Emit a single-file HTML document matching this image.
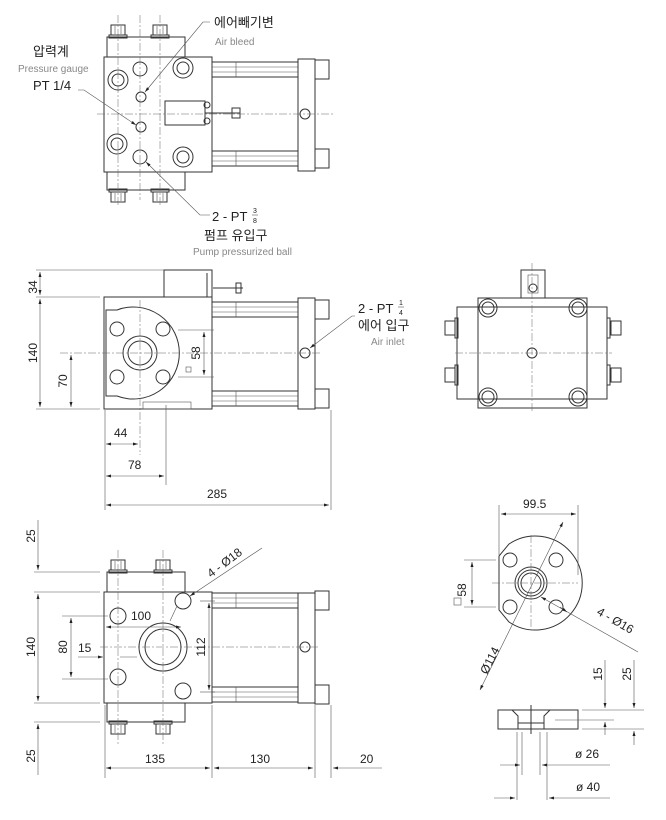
<!DOCTYPE html>
<html><head><meta charset="utf-8"><style>
html,body{margin:0;padding:0;background:#fff}
svg{display:block}
text{font-family:"Liberation Sans","Noto Sans CJK KR",sans-serif;fill:#222}
.l{stroke:#333;stroke-width:1;fill:none}
.t{stroke:#555;stroke-width:.6;fill:none}
.c{stroke:#666;stroke-width:.5;fill:none;stroke-dasharray:8 2 2 2}
.g{fill:#888;font-size:10px}
</style></head><body>
<svg width="666" height="820" viewBox="0 0 666 820" xmlns="http://www.w3.org/2000/svg">
<defs>
<marker id="a" viewBox="0 0 10 6" refX="10" refY="3" markerWidth="9" markerHeight="5" orient="auto-start-reverse"><path d="M0,0L10,3L0,6z" fill="#222"/></marker>
<g id="bolt"><rect x="-7" y="-6" width="14" height="10" class="l"/><rect x="-9" y="4" width="18" height="3" class="l"/><line x1="-3" y1="-5" x2="-3" y2="3" class="t"/><line x1="3" y1="-5" x2="3" y2="3" class="t"/></g>
<g id="cyl"><rect x="212" y="0" width="86" height="15" class="l"/><line x1="212" y1="5" x2="298" y2="5" class="t"/><line x1="212" y1="10" x2="298" y2="10" class="t"/><line x1="236" y1="0" x2="236" y2="15" class="t"/><rect x="315" y="-2" width="14" height="19" class="l"/></g>
</defs>

<!-- VIEW 1 top -->
<rect x="107" y="37" width="78" height="20" class="l"/>
<rect x="107" y="172" width="78" height="18" class="l"/>
<use href="#bolt" x="118" y="31"/><use href="#bolt" x="160" y="31"/>
<use href="#bolt" x="118" y="196" transform="rotate(180 118 196)"/><use href="#bolt" x="160" y="196" transform="rotate(180 160 196)"/>
<rect x="104" y="57" width="108" height="115" class="l"/>
<use href="#cyl" y="62"/><use href="#cyl" y="151"/>
<rect x="298" y="59" width="17" height="112" class="l"/>
<circle cx="305" cy="114" r="5" class="l"/>
<rect x="165" y="101" width="40" height="24" class="l"/>
<line x1="205" y1="113" x2="240" y2="113" class="l"/><rect x="232" y="108" width="8" height="10" class="l"/>
<circle cx="207" cy="105" r="3" class="l"/><circle cx="207" cy="121" r="3" class="l"/>
<g class="l"><circle cx="118" cy="80" r="10"/><circle cx="118" cy="80" r="6"/><circle cx="183" cy="68" r="10"/><circle cx="183" cy="68" r="6"/>
<circle cx="117" cy="144" r="10"/><circle cx="117" cy="144" r="6"/><circle cx="183" cy="157" r="10"/><circle cx="183" cy="157" r="6"/>
<circle cx="141" cy="97" r="5"/><circle cx="141" cy="127" r="5"/><circle cx="140" cy="157" r="7"/><circle cx="140" cy="69" r="7"/></g>
<line x1="97" y1="114" x2="335" y2="114" class="c"/><line x1="140" y1="15" x2="140" y2="200" class="c"/>
<line x1="118" y1="15" x2="118" y2="205" class="c"/><line x1="160" y1="15" x2="160" y2="205" class="c"/>
<polyline points="210,22 203,22 145,92" class="t" marker-end="url(#a)"/>
<polyline points="78,90 84,90 136,125" class="t" marker-end="url(#a)"/>
<polyline points="210,215 200,215 146,162" class="t" marker-end="url(#a)"/>
<text x="214" y="27" font-size="13">에어빼기변</text><text x="215" y="45" class="g">Air bleed</text>
<text x="33" y="56" font-size="13">압력계</text><text x="18" y="72" class="g">Pressure gauge</text>
<text x="33" y="90" font-size="13">PT 1/4</text>
<text x="212" y="221" font-size="13">2 - PT</text><text x="253" y="213" font-size="7">3</text><line x1="252" y1="215" x2="258" y2="215" class="t"/><text x="253" y="223" font-size="7">8</text>
<text x="204" y="240" font-size="13">펌프 유입구</text><text x="193" y="255" class="g">Pump pressurized ball</text>

<!-- VIEW 2 side -->
<rect x="164" y="270" width="48" height="27" class="l"/>
<rect x="104" y="297" width="108" height="112" class="l"/>
<path d="M117,310 A46,46 0 1 1 117,396 L106,396 L106,310 Z" class="l"/>
<circle cx="140" cy="353" r="17" class="l"/><circle cx="140" cy="353" r="12" class="l"/>
<g class="l"><circle cx="117" cy="329" r="7"/><circle cx="163" cy="329" r="7"/><circle cx="117" cy="377" r="7"/><circle cx="163" cy="377" r="7"/></g>
<rect x="186" y="367" width="5" height="5" class="t"/>
<rect x="143" y="402" width="48" height="7" class="t"/>
<use href="#cyl" y="302"/><use href="#cyl" y="391"/>
<rect x="298" y="298" width="17" height="111" class="l"/>
<circle cx="305" cy="353" r="5" class="l"/>
<line x1="207" y1="273" x2="207" y2="297" class="l"/><line x1="213" y1="288" x2="243" y2="288" class="l"/><rect x="236" y="283" width="5" height="10" class="l"/>
<line x1="60" y1="353" x2="320" y2="353" class="c"/><line x1="140" y1="300" x2="140" y2="455" class="c"/>
<line x1="36" y1="270" x2="164" y2="270" class="t"/><line x1="36" y1="297" x2="100" y2="297" class="t"/><line x1="36" y1="409" x2="100" y2="409" class="t"/>
<line x1="40" y1="272" x2="40" y2="295" class="t" marker-start="url(#a)" marker-end="url(#a)"/>
<line x1="40" y1="299" x2="40" y2="407" class="t" marker-start="url(#a)" marker-end="url(#a)"/>
<line x1="71" y1="355" x2="71" y2="407" class="t" marker-start="url(#a)" marker-end="url(#a)"/>
<text transform="translate(37,287) rotate(-90)" font-size="12" text-anchor="middle">34</text>
<text transform="translate(37,353) rotate(-90)" font-size="12" text-anchor="middle">140</text>
<text transform="translate(67,381) rotate(-90)" font-size="12" text-anchor="middle">70</text>
<line x1="178" y1="330" x2="214" y2="330" class="t"/><line x1="178" y1="377" x2="214" y2="377" class="t"/>
<line x1="204" y1="332" x2="204" y2="375" class="t" marker-start="url(#a)" marker-end="url(#a)"/>
<text transform="translate(200,353) rotate(-90)" font-size="12" text-anchor="middle">58</text>
<line x1="105" y1="410" x2="105" y2="510" class="t"/><line x1="166" y1="405" x2="166" y2="485" class="t"/><line x1="331" y1="410" x2="331" y2="510" class="t"/>
<line x1="106" y1="444" x2="138" y2="444" class="t" marker-start="url(#a)" marker-end="url(#a)"/>
<line x1="106" y1="476" x2="164" y2="476" class="t" marker-start="url(#a)" marker-end="url(#a)"/>
<line x1="106" y1="505" x2="329" y2="505" class="t" marker-start="url(#a)" marker-end="url(#a)"/>
<text x="114" y="437" font-size="12">44</text><text x="128" y="469" font-size="12">78</text><text x="207" y="498" font-size="12">285</text>
<polyline points="355,316 352,316 310,348" class="t" marker-end="url(#a)"/>
<text x="358" y="313" font-size="13">2 - PT</text><text x="399" y="305" font-size="7">1</text><line x1="398" y1="307" x2="404" y2="307" class="t"/><text x="399" y="315" font-size="7">4</text>
<text x="358" y="330" font-size="13">에어 입구</text><text x="371" y="345" class="g">Air inlet</text>

<!-- VIEW 3 right -->
<rect x="521" y="270" width="24" height="28" class="l"/><rect x="528" y="275" width="10" height="18" class="t"/><circle cx="533" cy="288" r="4" class="l"/>
<rect x="457" y="307" width="150" height="92" class="l"/>
<rect x="478" y="298" width="109" height="110" class="l" fill="#fff"/>
<g class="l"><circle cx="488" cy="308" r="9"/><circle cx="488" cy="308" r="6"/><circle cx="578" cy="308" r="9"/><circle cx="578" cy="308" r="6"/>
<circle cx="488" cy="397" r="9"/><circle cx="488" cy="397" r="6"/><circle cx="578" cy="397" r="9"/><circle cx="578" cy="397" r="6"/>
<circle cx="532" cy="353" r="5"/>
<rect x="445" y="321" width="10" height="14"/><rect x="455" y="318" width="3" height="20"/><rect x="445" y="368" width="10" height="14"/><rect x="455" y="365" width="3" height="20"/>
<rect x="611" y="321" width="10" height="14"/><rect x="607" y="318" width="3" height="20"/><rect x="611" y="368" width="10" height="14"/><rect x="607" y="365" width="3" height="20"/></g>
<line x1="455" y1="353" x2="612" y2="353" class="c"/><line x1="532" y1="263" x2="532" y2="412" class="c"/>

<!-- VIEW 4 -->
<rect x="107" y="572" width="78" height="20" class="l"/>
<rect x="107" y="703" width="78" height="19" class="l"/>
<use href="#bolt" x="118" y="566"/><use href="#bolt" x="163" y="566"/>
<use href="#bolt" x="118" y="728" transform="rotate(180 118 728)"/><use href="#bolt" x="163" y="728" transform="rotate(180 163 728)"/>
<rect x="104" y="592" width="108" height="111" class="l"/>
<use href="#cyl" y="593"/><use href="#cyl" y="687"/>
<rect x="298" y="593" width="17" height="110" class="l"/>
<circle cx="305" cy="647" r="5" class="l"/>
<g class="l"><circle cx="163" cy="647" r="24"/><circle cx="163" cy="647" r="18"/>
<circle cx="118" cy="616" r="8"/><circle cx="118" cy="677" r="8"/><circle cx="183" cy="601" r="8"/><circle cx="183" cy="691" r="8"/></g>
<line x1="100" y1="647" x2="320" y2="647" class="c"/><line x1="118" y1="550" x2="118" y2="745" class="c"/><line x1="163" y1="550" x2="163" y2="745" class="c"/>
<line x1="34" y1="572" x2="100" y2="572" class="t"/><line x1="34" y1="592" x2="100" y2="592" class="t"/><line x1="34" y1="703" x2="100" y2="703" class="t"/><line x1="34" y1="722" x2="100" y2="722" class="t"/>
<line x1="38" y1="520" x2="38" y2="570" class="t" marker-end="url(#a)"/>
<line x1="38" y1="594" x2="38" y2="701" class="t" marker-start="url(#a)" marker-end="url(#a)"/>
<line x1="38" y1="724" x2="38" y2="775" class="t" marker-start="url(#a)"/>
<text transform="translate(35,536) rotate(-90)" font-size="12" text-anchor="middle">25</text>
<text transform="translate(35,647) rotate(-90)" font-size="12" text-anchor="middle">140</text>
<text transform="translate(35,756) rotate(-90)" font-size="12" text-anchor="middle">25</text>
<line x1="62" y1="616" x2="108" y2="616" class="t"/><line x1="62" y1="679" x2="108" y2="679" class="t"/>
<line x1="71" y1="618" x2="71" y2="677" class="t" marker-start="url(#a)" marker-end="url(#a)"/>
<text transform="translate(67,647) rotate(-90)" font-size="12" text-anchor="middle">80</text>
<line x1="78" y1="657" x2="103" y2="657" class="t" marker-end="url(#a)"/><line x1="120" y1="657" x2="137" y2="657" class="t"/>
<text x="78" y="652" font-size="12">15</text>
<line x1="106" y1="627" x2="181" y2="627" class="t" marker-start="url(#a)" marker-end="url(#a)"/>
<text x="131" y="620" font-size="12">100</text>
<line x1="200" y1="601" x2="215" y2="601" class="t"/><line x1="200" y1="692" x2="215" y2="692" class="t"/>
<line x1="209" y1="603" x2="209" y2="690" class="t" marker-start="url(#a)" marker-end="url(#a)"/>
<text transform="translate(205,647) rotate(-90)" font-size="12" text-anchor="middle">112</text>
<line x1="262" y1="548" x2="190" y2="596" class="t" marker-end="url(#a)"/><line x1="170" y1="621" x2="177" y2="606" class="t"/>
<text transform="translate(211,578) rotate(-37)" font-size="12">4 - Ø18</text>
<line x1="105" y1="705" x2="105" y2="778" class="t"/><line x1="212" y1="705" x2="212" y2="778" class="t"/><line x1="315" y1="705" x2="315" y2="778" class="t"/><line x1="331" y1="705" x2="331" y2="778" class="t"/>
<line x1="106" y1="768" x2="210" y2="768" class="t" marker-start="url(#a)" marker-end="url(#a)"/>
<line x1="214" y1="768" x2="313" y2="768" class="t" marker-start="url(#a)" marker-end="url(#a)"/>
<line x1="382" y1="768" x2="333" y2="768" class="t" marker-end="url(#a)"/>
<text x="145" y="763" font-size="12">135</text><text x="250" y="763" font-size="12">130</text><text x="360" y="763" font-size="12">20</text>

<!-- VIEW 5 flange -->
<path d="M509,544 A47,47 0 1 1 509,622 L499,610 L499,556 Z" class="l"/>
<g class="l"><circle cx="510" cy="560" r="7"/><circle cx="556" cy="560" r="7"/><circle cx="510" cy="607" r="7"/><circle cx="556" cy="607" r="7"/>
<circle cx="531" cy="583" r="16"/><circle cx="531" cy="583" r="13"/><circle cx="531" cy="583" r="10"/></g>
<line x1="492" y1="583" x2="578" y2="583" class="c"/><line x1="531" y1="535" x2="531" y2="630" class="c"/>
<line x1="499" y1="505" x2="499" y2="555" class="t"/><line x1="578" y1="505" x2="578" y2="575" class="t"/>
<line x1="501" y1="514" x2="576" y2="514" class="t" marker-start="url(#a)" marker-end="url(#a)"/>
<text x="523" y="508" font-size="12">99.5</text>
<line x1="464" y1="560" x2="496" y2="560" class="t"/><line x1="464" y1="607" x2="496" y2="607" class="t"/>
<line x1="472" y1="562" x2="472" y2="605" class="t" marker-start="url(#a)" marker-end="url(#a)"/>
<text transform="translate(466,590) rotate(-90)" font-size="12" text-anchor="middle">58</text>
<rect x="454" y="598" width="7" height="7" class="t"/>
<line x1="480" y1="690" x2="563" y2="522" class="t" marker-start="url(#a)" marker-end="url(#a)"/>
<text transform="translate(487,675) rotate(-63)" font-size="12">Ø114</text>
<line x1="638" y1="652" x2="541" y2="597" class="t" marker-end="url(#a)"/><line x1="560" y1="607" x2="567" y2="612" class="t" marker-end="url(#a)"/>
<text transform="translate(596,614) rotate(30)" font-size="12">4 - Ø16</text>
<!-- flange side -->
<rect x="498" y="710" width="80" height="19" class="l"/>
<path d="M512,710 L518,716 L518,729 M550,710 L544,716 L544,729 M518,723 L544,723" class="l"/>
<line x1="531" y1="705" x2="531" y2="734" class="l"/>
<line x1="582" y1="710" x2="644" y2="710" class="t"/><line x1="582" y1="729" x2="644" y2="729" class="t"/><line x1="555" y1="720" x2="614" y2="720" class="t"/>
<line x1="605" y1="660" x2="605" y2="708" class="t" marker-end="url(#a)"/><line x1="605" y1="735" x2="605" y2="722" class="t" marker-end="url(#a)"/>
<line x1="634" y1="660" x2="634" y2="708" class="t" marker-end="url(#a)"/><line x1="634" y1="745" x2="634" y2="731" class="t" marker-end="url(#a)"/>
<text transform="translate(602,674) rotate(-90)" font-size="12" text-anchor="middle">15</text>
<text transform="translate(631,674) rotate(-90)" font-size="12" text-anchor="middle">25</text>
<line x1="517" y1="732" x2="517" y2="800" class="t"/><line x1="522" y1="732" x2="522" y2="775" class="t"/><line x1="540" y1="732" x2="540" y2="775" class="t"/><line x1="547" y1="732" x2="547" y2="800" class="t"/>
<line x1="500" y1="765" x2="520" y2="765" class="t" marker-end="url(#a)"/><line x1="610" y1="765" x2="542" y2="765" class="t" marker-end="url(#a)"/>
<line x1="494" y1="798" x2="515" y2="798" class="t" marker-end="url(#a)"/><line x1="610" y1="798" x2="549" y2="798" class="t" marker-end="url(#a)"/>
<text x="575" y="758" font-size="12">ø 26</text><text x="576" y="791" font-size="12">ø 40</text>
</svg>
</body></html>
